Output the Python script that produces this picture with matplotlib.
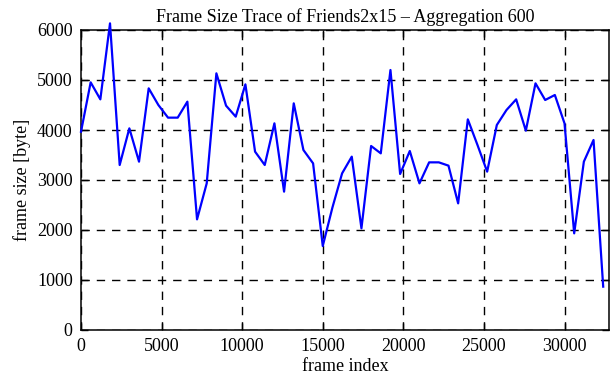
import matplotlib
matplotlib.use("Agg")
import matplotlib.pyplot as plt

# ── Data (aggregation of 600 frames) ─────────────────────────────────────────
frame_index = list(range(0, 32401, 600))
frame_size = [
    3966, 4953, 4613, 6133, 3300, 4033, 3367, 4833, 4500, 4247,
    4247, 4567, 2213, 2933, 5133, 4487, 4267, 4913, 3567, 3300,
    4133, 2767, 4533, 3600, 3333, 1680, 2450, 3133, 3467, 2033,
    3680, 3533, 5200, 3120, 3580, 2933, 3353, 3353, 3287, 2533,
    4213, 3700, 3167, 4100, 4400, 4613, 3987, 4933, 4600, 4700,
    4133, 1933, 3367, 3800, 867,
]
x_ticks = [0, 5000, 10000, 15000, 20000, 25000, 30000]
y_ticks = [0, 1000, 2000, 3000, 4000, 5000, 6000]

plt.rcParams["font.family"] = ["Liberation Serif", "DejaVu Serif"]

fig = plt.figure(figsize=(6.11, 3.80), dpi=100)
ax = fig.add_axes([81 / 611, 50 / 380, 528 / 611, 300 / 380])

ax.plot(frame_index, frame_size, color="#0000ff", linewidth=1.6, clip_on=False, zorder=3)

ax.set_xlim(0, 32760)
ax.set_ylim(0, 6000)
ax.set_xticks(x_ticks)
ax.set_yticks(y_ticks)
ax.tick_params(direction="in", length=5, width=1, top=True, right=True,
               labelsize=13, colors="black", pad=6)
ax.grid(True, color="black", linestyle=(0, (6, 5)), linewidth=1)
for s in ax.spines.values():
    s.set_linewidth(1.1)

ax.set_xlabel("frame index", fontsize=13, labelpad=2)
ax.set_ylabel("frame size [byte]", fontsize=13, labelpad=4)
ax.set_title("Frame Size Trace of Friends2x15 \u2013 Aggregation 600", fontsize=13, pad=6)

fig.savefig("out.png", dpi=100, facecolor="white")
